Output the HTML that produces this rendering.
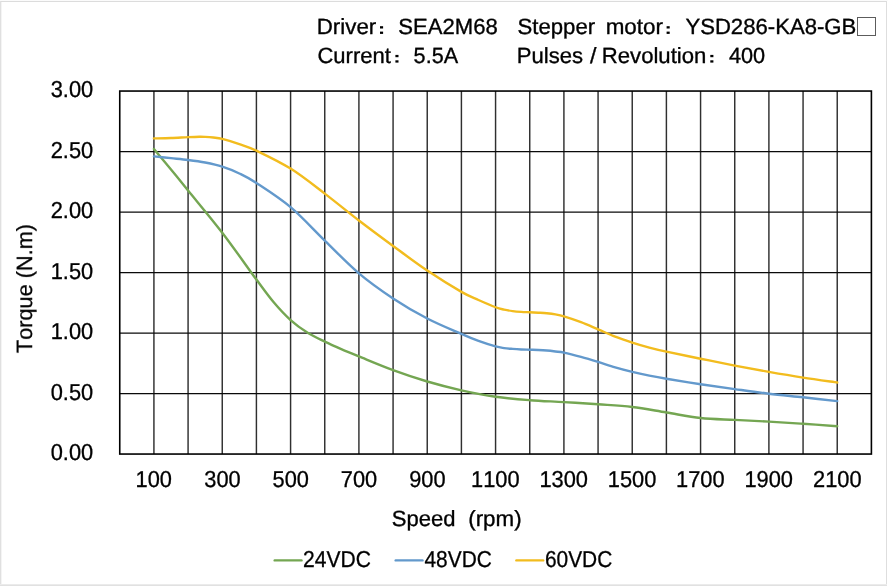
<!DOCTYPE html>
<html><head><meta charset="utf-8"><title>Torque curve</title>
<style>
html,body{margin:0;padding:0;background:#fff;}
body{width:888px;height:586px;overflow:hidden;position:relative;font-family:"Liberation Sans",sans-serif;}
#chart{position:absolute;left:0;top:0;width:888px;height:586px;}
svg{position:absolute;left:0;top:0;display:block;}
#txt{opacity:0.999;}
svg text{font-family:"Liberation Sans",sans-serif;fill:#000;font-kerning:none;text-rendering:geometricPrecision;}
</style></head><body>
<div id="chart">
<svg width="888" height="586" viewBox="0 0 888 586">
<rect x="0" y="0" width="888" height="586" fill="#fff"/>
<g shape-rendering='crispEdges'><rect x='0' y='0' width='888' height='1' fill='#fbfbfb'/><rect x='1' y='1' width='886' height='1' fill='#dcdcdc'/><rect x='0' y='1' width='1' height='585' fill='#e0e0e0'/><rect x='1' y='2' width='1' height='582' fill='#f4f4f4'/><rect x='886' y='1' width='1' height='584' fill='#dedede'/><rect x='0' y='584' width='887' height='1' fill='#ebebeb'/><rect x='0' y='585' width='887' height='1' fill='#e1e1e1'/></g>
<line x1="153.92" y1="91.05" x2="153.92" y2="454.05" stroke="#303030" stroke-width="1.45"/>
<line x1="188.08" y1="91.05" x2="188.08" y2="454.05" stroke="#303030" stroke-width="1.45"/>
<line x1="222.25" y1="91.05" x2="222.25" y2="454.05" stroke="#303030" stroke-width="1.45"/>
<line x1="256.41" y1="91.05" x2="256.41" y2="454.05" stroke="#303030" stroke-width="1.45"/>
<line x1="290.58" y1="91.05" x2="290.58" y2="454.05" stroke="#303030" stroke-width="1.45"/>
<line x1="324.75" y1="91.05" x2="324.75" y2="454.05" stroke="#303030" stroke-width="1.45"/>
<line x1="358.91" y1="91.05" x2="358.91" y2="454.05" stroke="#303030" stroke-width="1.45"/>
<line x1="393.08" y1="91.05" x2="393.08" y2="454.05" stroke="#303030" stroke-width="1.45"/>
<line x1="427.24" y1="91.05" x2="427.24" y2="454.05" stroke="#303030" stroke-width="1.45"/>
<line x1="461.41" y1="91.05" x2="461.41" y2="454.05" stroke="#303030" stroke-width="1.45"/>
<line x1="495.57" y1="91.05" x2="495.57" y2="454.05" stroke="#303030" stroke-width="1.45"/>
<line x1="529.74" y1="91.05" x2="529.74" y2="454.05" stroke="#303030" stroke-width="1.45"/>
<line x1="563.91" y1="91.05" x2="563.91" y2="454.05" stroke="#303030" stroke-width="1.45"/>
<line x1="598.07" y1="91.05" x2="598.07" y2="454.05" stroke="#303030" stroke-width="1.45"/>
<line x1="632.24" y1="91.05" x2="632.24" y2="454.05" stroke="#303030" stroke-width="1.45"/>
<line x1="666.40" y1="91.05" x2="666.40" y2="454.05" stroke="#303030" stroke-width="1.45"/>
<line x1="700.57" y1="91.05" x2="700.57" y2="454.05" stroke="#303030" stroke-width="1.45"/>
<line x1="734.74" y1="91.05" x2="734.74" y2="454.05" stroke="#303030" stroke-width="1.45"/>
<line x1="768.90" y1="91.05" x2="768.90" y2="454.05" stroke="#303030" stroke-width="1.45"/>
<line x1="803.07" y1="91.05" x2="803.07" y2="454.05" stroke="#303030" stroke-width="1.45"/>
<line x1="837.23" y1="91.05" x2="837.23" y2="454.05" stroke="#303030" stroke-width="1.45"/>
<line x1="119.75" y1="393.55" x2="871.40" y2="393.55" stroke="#0a0a0a" stroke-width="1.3"/>
<line x1="119.75" y1="333.05" x2="871.40" y2="333.05" stroke="#0a0a0a" stroke-width="1.3"/>
<line x1="119.75" y1="272.55" x2="871.40" y2="272.55" stroke="#0a0a0a" stroke-width="1.3"/>
<line x1="119.75" y1="212.05" x2="871.40" y2="212.05" stroke="#0a0a0a" stroke-width="1.3"/>
<line x1="119.75" y1="151.55" x2="871.40" y2="151.55" stroke="#0a0a0a" stroke-width="1.3"/>
<rect x="119.75" y="91.05" width="751.65" height="363.00" fill="none" stroke="#000" stroke-width="1.6"/>
<path d="M153.92,148.90 C156.76,152.32 165.30,162.47 171.00,169.40 C176.69,176.33 179.54,179.95 188.08,190.50 C196.62,201.05 210.86,217.86 222.25,232.70 C233.64,247.54 247.87,268.00 256.41,279.56 C264.96,291.12 267.80,295.32 273.50,302.08 C279.19,308.84 284.89,314.98 290.58,320.10 C296.27,325.22 301.97,329.21 307.66,332.80 C313.36,336.39 319.05,338.91 324.75,341.67 C330.44,344.43 336.13,346.90 341.83,349.35 C347.52,351.81 350.37,352.94 358.91,356.40 C367.45,359.86 381.69,365.92 393.08,370.10 C404.47,374.28 415.85,378.13 427.24,381.50 C438.63,384.87 450.02,387.75 461.41,390.30 C472.80,392.85 484.19,395.15 495.57,396.80 C506.96,398.45 518.35,399.32 529.74,400.20 C541.13,401.08 552.52,401.42 563.91,402.10 C575.30,402.78 586.68,403.48 598.07,404.30 C609.46,405.12 620.85,405.63 632.24,407.00 C643.63,408.37 655.02,410.67 666.40,412.50 C677.79,414.33 689.18,416.77 700.57,418.00 C711.96,419.23 723.35,419.30 734.74,419.90 C746.12,420.50 757.51,420.95 768.90,421.60 C780.29,422.25 791.68,423.03 803.07,423.80 C814.46,424.57 831.54,425.80 837.23,426.20" fill="none" stroke="#74a652" stroke-width="2.4" stroke-linecap="round" stroke-linejoin="round"/>
<path d="M153.92,156.40 C156.76,156.69 165.30,157.58 171.00,158.17 C176.69,158.76 182.39,159.22 188.08,159.95 C193.78,160.68 199.47,161.42 205.16,162.54 C210.86,163.66 216.55,164.82 222.25,166.64 C227.94,168.46 233.64,170.73 239.33,173.46 C245.02,176.19 247.87,177.40 256.41,183.02 C264.96,188.64 279.19,197.60 290.58,207.20 C301.97,216.80 313.36,229.58 324.75,240.60 C336.13,251.62 347.52,263.67 358.91,273.30 C370.30,282.93 381.69,290.87 393.08,298.40 C404.47,305.93 415.85,312.58 427.24,318.50 C438.63,324.42 452.87,330.15 461.41,333.90 C469.95,337.64 472.80,338.88 478.49,340.97 C484.19,343.06 491.30,345.25 495.57,346.43 C499.85,347.61 501.27,347.66 504.12,348.07 C506.96,348.48 509.81,348.66 512.66,348.89 C515.51,349.12 518.35,349.30 521.20,349.44 C524.05,349.58 526.89,349.62 529.74,349.71 C532.59,349.80 535.44,349.84 538.28,349.98 C541.13,350.12 543.98,350.28 546.82,350.53 C549.67,350.78 552.52,351.13 555.37,351.48 C558.21,351.83 559.64,351.70 563.91,352.60 C568.18,353.50 575.30,355.32 580.99,356.88 C586.68,358.44 592.38,360.18 598.07,361.93 C603.77,363.68 609.46,365.73 615.16,367.39 C620.85,369.05 626.54,370.52 632.24,371.89 C637.93,373.25 643.63,374.44 649.32,375.58 C655.02,376.72 657.86,377.28 666.40,378.72 C674.95,380.16 689.18,382.47 700.57,384.20 C711.96,385.93 723.35,387.52 734.74,389.10 C746.12,390.68 757.51,392.33 768.90,393.70 C780.29,395.07 791.68,396.07 803.07,397.30 C814.46,398.53 831.54,400.47 837.23,401.10" fill="none" stroke="#6399cc" stroke-width="2.4" stroke-linecap="round" stroke-linejoin="round"/>
<path d="M153.92,138.40 C156.76,138.33 165.30,138.18 171.00,137.97 C176.69,137.76 183.36,137.35 188.08,137.15 C192.81,136.95 196.51,136.81 199.36,136.76 C202.20,136.71 202.83,136.75 205.16,136.88 C207.50,137.01 210.52,137.22 213.36,137.56 C216.21,137.90 217.92,137.83 222.25,138.92 C226.58,140.01 233.64,142.14 239.33,144.10 C245.02,146.06 247.87,146.59 256.41,150.67 C264.96,154.75 279.19,161.44 290.58,168.60 C301.97,175.75 313.36,184.95 324.75,193.60 C336.13,202.25 347.52,211.77 358.91,220.50 C370.30,229.23 381.69,237.65 393.08,246.00 C404.47,254.35 415.85,262.95 427.24,270.60 C438.63,278.25 452.87,287.00 461.41,291.90 C469.95,296.80 472.80,297.44 478.49,300.00 C484.19,302.56 491.30,305.65 495.57,307.25 C499.85,308.85 501.27,308.93 504.12,309.57 C506.96,310.21 509.81,310.69 512.66,311.08 C515.51,311.47 518.35,311.69 521.20,311.89 C524.05,312.09 526.89,312.16 529.74,312.30 C532.59,312.44 535.44,312.55 538.28,312.71 C541.13,312.87 543.98,312.99 546.82,313.26 C549.67,313.53 552.52,313.84 555.37,314.35 C558.21,314.86 559.64,315.01 563.91,316.30 C568.18,317.59 575.30,319.89 580.99,322.06 C586.68,324.23 592.38,326.87 598.07,329.30 C603.77,331.74 609.46,334.45 615.16,336.67 C620.85,338.89 626.54,340.78 632.24,342.60 C637.93,344.42 643.63,346.07 649.32,347.59 C655.02,349.11 657.86,349.85 666.40,351.70 C674.95,353.55 689.18,356.38 700.57,358.70 C711.96,361.02 723.35,363.40 734.74,365.60 C746.12,367.80 757.51,369.90 768.90,371.90 C780.29,373.90 791.68,375.83 803.07,377.60 C814.46,379.37 831.54,381.68 837.23,382.50" fill="none" stroke="#f2bc1e" stroke-width="2.4" stroke-linecap="round" stroke-linejoin="round"/>
<rect x="380.00" y="26.20" width="3.1" height="2.3" fill="#000"/><rect x="380.00" y="31.60" width="3.1" height="2.3" fill="#000"/>
<rect x="666.60" y="26.20" width="3.1" height="2.3" fill="#000"/><rect x="666.60" y="31.60" width="3.1" height="2.3" fill="#000"/>
<rect x="395.40" y="54.90" width="3.1" height="2.3" fill="#000"/><rect x="395.40" y="60.30" width="3.1" height="2.3" fill="#000"/>
<rect x="710.30" y="54.90" width="3.1" height="2.3" fill="#000"/><rect x="710.30" y="60.30" width="3.1" height="2.3" fill="#000"/>
<line x1="274.70" y1="560.40" x2="301.50" y2="560.40" stroke="#74a652" stroke-width="2.4" stroke-linecap="round"/>
<line x1="395.70" y1="560.40" x2="422.50" y2="560.40" stroke="#6399cc" stroke-width="2.4" stroke-linecap="round"/>
<line x1="516.40" y1="560.40" x2="543.20" y2="560.40" stroke="#f2bc1e" stroke-width="2.4" stroke-linecap="round"/>
<rect x="857.5" y="17.5" width="18" height="18" fill="none" stroke="#5c5c5c" stroke-width="1"/>
<g id="txt">
<text transform="translate(316.75,34.00) scale(1.0134,1.0000)" font-size="22" stroke="#000" stroke-width="0.35">Driver</text>
<text transform="translate(398.37,34.00) scale(1.0036,1.0000)" font-size="22" stroke="#000" stroke-width="0.35">SEA2M68</text>
<text transform="translate(517.57,34.00) scale(1.0061,1.0000)" font-size="22" stroke="#000" stroke-width="0.35">Stepper</text>
<text transform="translate(605.69,34.00) scale(1.0191,1.0000)" font-size="22" stroke="#000" stroke-width="0.35">motor</text>
<text transform="translate(685.39,34.00) scale(1.0055,1.0000)" font-size="22" stroke="#000" stroke-width="0.35">YSD286-KA8-GB</text>
<text transform="translate(317.46,62.70) scale(1.0010,1.0000)" font-size="22" stroke="#000" stroke-width="0.35">Current</text>
<text transform="translate(413.61,62.70) scale(0.9823,1.0000)" font-size="22" stroke="#000" stroke-width="0.35">5.5A</text>
<text transform="translate(516.77,62.70) scale(1.0019,1.0000)" font-size="22" stroke="#000" stroke-width="0.35">Pulses</text>
<text transform="translate(589.88,62.70) scale(1.0552,1.0000)" font-size="22" stroke="#000" stroke-width="0.35">/</text>
<text transform="translate(601.76,62.70) scale(1.0063,1.0000)" font-size="22" stroke="#000" stroke-width="0.35">Revolution</text>
<text transform="translate(728.98,62.70) scale(0.9861,1.0000)" font-size="22" stroke="#000" stroke-width="0.35">400</text>
<text transform="translate(391.78,525.80) scale(1.0008,1.0000)" font-size="22" stroke="#000" stroke-width="0.35">Speed</text>
<text transform="translate(468.19,525.80) scale(1.0168,1.0000)" font-size="22" stroke="#000" stroke-width="0.35">(rpm)</text>
<text transform="translate(50.70,460.35) scale(0.9927,1.0450)" font-size="22" stroke="#000" stroke-width="0.3">0.00</text>
<text transform="translate(50.70,399.85) scale(0.9927,1.0450)" font-size="22" stroke="#000" stroke-width="0.3">0.50</text>
<text transform="translate(50.70,339.35) scale(0.9926,1.0450)" font-size="22" stroke="#000" stroke-width="0.3">1.00</text>
<text transform="translate(50.70,278.85) scale(0.9926,1.0450)" font-size="22" stroke="#000" stroke-width="0.3">1.50</text>
<text transform="translate(50.70,218.35) scale(0.9927,1.0450)" font-size="22" stroke="#000" stroke-width="0.3">2.00</text>
<text transform="translate(50.70,157.85) scale(0.9927,1.0450)" font-size="22" stroke="#000" stroke-width="0.3">2.50</text>
<text transform="translate(50.70,97.35) scale(0.9927,1.0450)" font-size="22" stroke="#000" stroke-width="0.3">3.00</text>
<text transform="translate(135.52,486.50) scale(0.9912,1.0450)" font-size="22" stroke="#000" stroke-width="0.3">100</text>
<text transform="translate(204.26,486.50) scale(0.9914,1.0450)" font-size="22" stroke="#000" stroke-width="0.3">300</text>
<text transform="translate(272.57,486.50) scale(0.9914,1.0450)" font-size="22" stroke="#000" stroke-width="0.3">500</text>
<text transform="translate(340.78,486.50) scale(0.9914,1.0450)" font-size="22" stroke="#000" stroke-width="0.3">700</text>
<text transform="translate(409.16,486.50) scale(0.9914,1.0450)" font-size="22" stroke="#000" stroke-width="0.3">900</text>
<text transform="translate(471.06,486.50) scale(0.9935,1.0450)" font-size="22" stroke="#000" stroke-width="0.3">1100</text>
<text transform="translate(539.39,486.50) scale(0.9935,1.0450)" font-size="22" stroke="#000" stroke-width="0.3">1300</text>
<text transform="translate(607.72,486.50) scale(0.9935,1.0450)" font-size="22" stroke="#000" stroke-width="0.3">1500</text>
<text transform="translate(676.05,486.50) scale(0.9935,1.0450)" font-size="22" stroke="#000" stroke-width="0.3">1700</text>
<text transform="translate(744.38,486.50) scale(0.9935,1.0450)" font-size="22" stroke="#000" stroke-width="0.3">1900</text>
<text transform="translate(813.00,486.50) scale(0.9936,1.0450)" font-size="22" stroke="#000" stroke-width="0.3">2100</text>
<text transform="translate(303.09,566.50) scale(0.9583,1.0450)" font-size="22" stroke="#000" stroke-width="0.3">24VDC</text>
<text transform="translate(424.47,566.50) scale(0.9500,1.0450)" font-size="22" stroke="#000" stroke-width="0.3">48VDC</text>
<text transform="translate(544.89,566.50) scale(0.9512,1.0450)" font-size="22" stroke="#000" stroke-width="0.3">60VDC</text>
<text transform="translate(32.0,353.09) rotate(-90) scale(0.9865,1.0000)" font-size="22" stroke="#000" stroke-width="0.3">Torque (N.m)</text>
</g>
</svg>
</div>
</body></html>
